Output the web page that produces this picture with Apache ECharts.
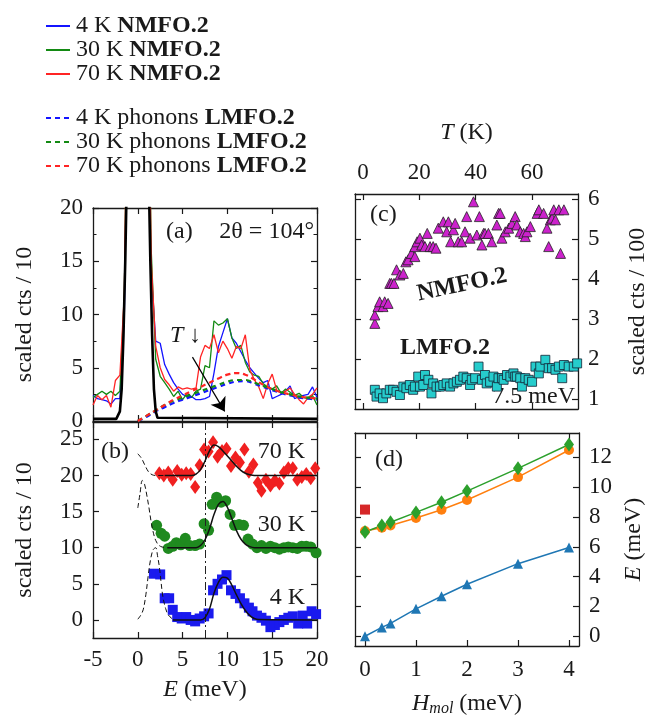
<!DOCTYPE html>
<html>
<head>
<meta charset="utf-8">
<script src="https://cdn.jsdelivr.net/npm/echarts@6/dist/echarts.min.js"></script>
<style>
  html, body { margin: 0; padding: 0; background: #fff; }
  #chart { width: 653px; height: 718px; }
</style>
</head>
<body>
<div id="chart"></div>
<script>
// ---------- panel (a): raw spectra at 2θ = 104° ----------
const aE = [-5,-4.5,-4,-3.5,-3,-2.5,-2,-1.5,-1,-0.5,0,0.5,1,1.5,2,2.5,3,3.5,4,4.5,5,5.5,6,6.5,7,7.5,8,8.5,9,9.5,10,10.5,11,11.5,12,12.5,13,13.5,14,14.5,15,15.5,16,16.5,17,17.5,18,18.5,19,19.5,20];
const a4K  = [2.4,2.1,2.0,1.9,1.6,2.1,2.1,10,40,80,90,80,40,14,7.5,7.3,5.3,4.4,3.6,3.0,2.5,2.3,2.3,2.0,2.0,2.1,2.3,4.5,7.0,8.3,9.6,7.8,7.3,6.5,5.7,5.0,4.5,4.0,3.6,3.8,2.1,2.3,2.5,2.8,3.3,2.1,2.3,2.4,2.5,3.2,2.2];
const a30K = [2.2,2.5,2.8,2.5,2.8,2.4,2.8,12,45,80,90,80,45,16,5.8,4.2,3.6,3.0,2.3,2.8,2.0,2.6,2.2,2.8,3.0,5.2,5.0,9.4,9.0,9.2,9.6,7.8,6.8,7.1,5.5,4.6,4.3,4.2,3.5,3.2,3.0,3.3,2.6,3.0,2.7,2.4,2.6,2.2,2.1,2.4,1.5];
const a70K = [1.5,2.4,2.0,2.4,1.3,3.8,4.3,12,45,80,90,80,45,15,7.0,5.0,3.9,3.4,2.8,3.2,3.0,3.1,3.0,3.1,6.0,7.1,6.8,8.1,6.4,7.5,6.8,5.9,7.0,6.8,8.1,4.8,3.9,3.2,2.1,3.5,4.4,2.9,2.6,2.8,3.1,2.5,2.0,1.6,2.2,2.5,3.1];
// phonon background measured on LMFO.2
const pE = [0,1,2,3,4,5,6,7,8,9,10,11,12,13,14,15,16,17,18,19,20];
const p4K  = [0,0.4,0.9,1.3,1.7,2.0,2.3,2.6,2.9,3.2,3.5,3.7,3.75,3.5,3.2,2.9,2.6,2.4,2.2,2.1,2.0];
const p30K = [0,0.5,1.0,1.5,1.9,2.2,2.5,2.8,3.1,3.4,3.7,3.85,3.85,3.6,3.3,3.0,2.7,2.5,2.3,2.2,2.1];
const p70K = [0,0.5,1.0,1.5,2.0,2.4,2.8,3.2,3.6,4.0,4.35,4.5,4.35,3.9,3.4,3.0,2.7,2.5,2.3,2.2,2.1];
// elastic line
const elE = [-5,-2.4,-2.2,-2.0,-1.8,-1.6,-1.4,-1.2,0,1.2,1.4,1.6,1.8,2.0,2.2,2.4,20];
const elV = [0.2,0.2,0.3,0.9,3,8,15,24,100,24,15,8,3,0.9,0.3,0.2,0.2];

// ---------- panel (b): magnetic signal (offset by 10 per temperature) ----------
const b4K = [[1.8,6.4],[2.5,6.3],[3.0,3.0],[3.5,3.0],[3.9,1.4],[4.4,0.4],[4.9,0.2],[5.4,0.4],[5.9,0.0],[6.4,-0.2],[6.9,0.2],[7.4,0.5],[7.9,0.9],[8.4,4.1],[8.9,5.0],[9.4,5.6],[9.9,6.2],[10.4,4.1],[10.9,3.6],[11.4,3.0],[11.9,2.3],[12.4,1.7],[12.8,1.2],[13.3,0.6],[13.8,0.3],[14.3,-0.1],[14.8,-1.0],[15.3,-0.7],[15.8,-0.3],[16.3,0.0],[16.8,0.3],[17.3,0.5],[17.9,-0.5],[18.4,0.6],[18.9,-0.5],[19.4,1.2],[19.9,0.8]];
const b30K = [[2.1,13.1],[2.6,12.0],[3.0,11.6],[3.4,9.9],[3.9,10.2],[4.3,10.7],[4.8,10.4],[5.3,11.3],[5.8,10.3],[6.4,10.3],[6.9,10.5],[7.4,13.3],[7.9,12.4],[8.3,16.0],[8.8,17.0],[9.3,16.3],[9.8,16.5],[10.3,14.6],[10.8,13.1],[11.3,13.2],[11.8,13.1],[12.3,11.2],[12.8,10.5],[13.3,10.0],[13.8,10.3],[14.3,9.9],[14.8,10.2],[15.3,10.0],[15.8,9.8],[16.3,10.0],[16.8,10.1],[17.3,10.0],[17.8,9.9],[18.3,10.2],[18.8,10.2],[19.3,10.1],[19.9,9.3]];
const b70K = [[2.4,20.3],[2.9,20.0],[3.4,20.4],[3.9,19.4],[4.4,20.6],[4.9,20.1],[5.4,20.3],[5.9,20.2],[6.4,18.4],[6.9,21.4],[7.4,23.6],[7.9,23.3],[8.4,24.6],[8.9,22.6],[9.4,23.4],[9.9,23.7],[10.4,21.3],[10.9,22.5],[11.4,21.8],[11.9,23.6],[12.4,20.5],[12.9,21.5],[13.4,19.0],[13.8,17.9],[14.3,19.4],[14.8,18.6],[15.3,19.3],[15.8,18.9],[16.3,20.4],[16.8,21.0],[17.3,21.0],[17.8,19.4],[18.3,19.8],[18.8,20.2],[19.3,19.6],[19.8,21.0]];
const fit4K  = [[3.9,0],[7.0,0],[7.5,0.3],[8.0,1.5],[8.5,3.7],[9.0,5.2],[9.5,5.9],[10.0,5.8],[10.5,4.8],[11.0,3.5],[11.5,2.3],[12.0,1.3],[12.5,0.6],[13.0,0.2],[13.5,0.05],[20,0]];
const fit30K = [[3.3,10],[6.5,10],[7.0,10.3],[7.5,11.1],[8.0,12.6],[8.5,14.6],[9.0,16.0],[9.5,16.4],[10.0,15.6],[10.5,14.0],[11.0,12.4],[11.5,11.2],[12.0,10.5],[12.5,10.15],[13.0,10.0],[20,10]];
const fit70K = [[3.0,20],[6.0,20],[6.5,20.2],[7.0,20.8],[7.5,22.0],[8.0,23.4],[8.5,24.2],[9.0,24.0],[9.5,23.4],[10.0,22.7],[10.5,22.0],[11.0,21.3],[11.5,20.7],[12.0,20.3],[12.5,20.1],[13.0,20.0],[20,20]];
const res4K  = [[0,0.1],[0.3,0.6],[0.6,1.4],[0.9,3.5],[1.15,6.0],[1.4,8.2],[1.7,9.7],[2.0,10.0],[2.2,8.9],[2.4,7.4],[2.6,5.2],[2.8,3.2],[3.1,1.6],[3.4,0.7],[3.9,0.1]];
const res30K = [[0,15.5],[0.25,17.5],[0.5,19.3],[0.75,18.8],[1.0,17.3],[1.25,15.5],[1.5,13.5],[1.75,12.0],[2.0,11.0],[2.3,10.4],[2.7,10.1],[3.3,10.0]];
const res70K = [[0,23.0],[0.4,22.4],[0.8,21.4],[1.2,20.5],[1.6,20.1],[2.0,20.0],[3.0,20.0]];
const cutE = 7.5;

// ---------- panel (c): intensity at 7.5 meV vs temperature ----------
const cNMFO = [[4.2,2.89],[4.2,3.10],[5.3,3.31],[5.9,3.43],[7.1,3.31],[7.7,3.43],[8.9,3.39],[9.5,3.89],[10.1,3.89],[11.0,3.89],[11.9,4.23],[13.1,4.10],[14.3,4.14],[15.2,4.43],[16.0,4.48],[17.2,4.64],[18.4,4.56],[18.4,4.81],[19.2,4.93],[20.2,5.02],[20.8,4.85],[22.0,4.81],[22.8,5.14],[23.8,4.81],[24.9,4.81],[25.9,4.77],[26.7,5.27],[28.5,5.43],[29.7,5.18],[30.3,5.43],[31.1,4.93],[32.1,5.23],[32.7,5.39],[33.8,4.93],[35.0,4.93],[36.2,5.18],[36.8,5.56],[38.0,5.02],[39.2,5.93],[40.4,5.10],[41.3,5.56],[42.2,4.85],[42.8,5.14],[43.3,5.14],[44.5,5.14],[45.7,4.93],[47.5,5.35],[48.1,5.64],[48.7,5.64],[49.3,5.02],[50.5,5.18],[51.7,5.27],[52.9,5.39],[54.0,5.56],[54.6,5.35],[55.8,5.18],[57.0,5.14],[57.6,5.06],[58.2,5.18],[59.4,5.31],[61.8,5.64],[62.4,5.73],[64.1,5.64],[65.3,5.27],[65.9,4.81],[66.5,5.48],[67.1,5.52],[67.7,5.73],[68.3,5.48],[69.5,5.73],[70.1,4.64],[71.3,5.73]];
const cLMFO = [[4.2,1.23],[4.8,1.06],[5.9,1.14],[7.1,1.02],[8.3,1.14],[9.5,1.23],[10.7,1.23],[11.9,1.18],[13.1,1.10],[14.3,1.31],[15.4,1.27],[16.6,1.35],[17.8,1.23],[18.4,1.31],[19.6,1.56],[20.2,1.31],[21.4,1.35],[22.0,1.60],[23.2,1.48],[24.3,1.14],[24.9,1.39],[26.1,1.31],[27.3,1.31],[28.5,1.35],[29.7,1.39],[30.9,1.31],[32.1,1.39],[33.3,1.43],[34.4,1.48],[35.6,1.56],[36.8,1.52],[38.0,1.35],[38.6,1.48],[39.8,1.52],[41.0,1.81],[42.2,1.48],[43.3,1.60],[43.9,1.39],[45.1,1.43],[46.3,1.56],[47.5,1.31],[48.1,1.52],[49.3,1.52],[49.9,1.48],[51.1,1.60],[52.3,1.56],[53.4,1.64],[54.0,1.56],[54.6,1.56],[55.8,1.52],[56.4,1.31],[57.6,1.52],[58.8,1.48],[60.0,1.43],[61.2,1.81],[62.4,1.64],[62.9,1.81],[64.7,1.98],[65.9,1.77],[67.1,1.77],[68.3,1.73],[69.5,1.81],[70.7,1.52],[71.3,1.85],[73.0,1.81],[74.8,1.81],[76.0,1.89]];

// ---------- panel (d): level energies vs molecular field ----------
const dH = [0,0.33,0.5,1,1.5,2,3,4];
const dUpper = [7.0,7.43,7.65,8.31,8.99,9.74,11.27,12.87];
const dMiddle = [7.06,7.28,7.43,7.94,8.49,9.14,10.68,12.5];
const dLower = [0,0.59,0.86,1.84,2.68,3.49,4.87,5.96];
const dObserved = [[0,8.5]];

// ---------- tick values ----------
const ticksE = [-5,0,5,10,15,20];
const ticksA = [0,5,10,15,20];
const ticksB = [0,5,10,15,20,25];
const ticksT = [0,20,40,60];
const ticksC = [1,2,3,4,5,6];
const ticksH = [0,1,2,3,4];
const ticksD = [0,2,4,6,8,10,12];

const FONT = '"Liberation Serif", "DejaVu Serif", serif';
const INK = '#1a1a1a';
const pairs = (xs, ys) => xs.map((x, i) => [x, ys[i]]);

const RICH = {
  i: { fontFamily: FONT, fontSize: 24, fontStyle: 'italic', color: INK },
  s: { fontFamily: FONT, fontSize: 16, fontStyle: 'italic', color: INK, verticalAlign: 'bottom', padding: [10, 0, 0, 0] }
};

function mkAxis(o) {
  const ax = {
    type: 'value', gridIndex: o.grid, position: o.pos, min: o.min, max: o.max,
    axisLine: { show: true, onZero: false, lineStyle: { color: INK, width: 1.3 } },
    axisTick: { show: true, inside: true, length: 6, lineStyle: { color: INK, width: 1.2 }, customValues: o.ticks },
    axisLabel: { show: !!o.labels, fontFamily: FONT, fontSize: 23, color: INK, margin: o.margin || 10, customValues: o.ticks },
    splitLine: { show: false }
  };
  if (o.minor) ax.minorTick = { show: true, splitNumber: 2, length: 3.5, lineStyle: { color: INK, width: 1 } };
  if (o.name) {
    ax.name = o.name;
    ax.nameLocation = 'middle';
    ax.nameGap = o.gap;
    if (o.rot) ax.nameRotate = o.rot;
    ax.nameTextStyle = { fontFamily: FONT, fontSize: 24, color: INK, rich: RICH };
  }
  return ax;
}

const xAxes = [
  mkAxis({ grid: 0, pos: 'bottom', min: -5, max: 20, ticks: ticksE }),
  mkAxis({ grid: 0, pos: 'top', min: -5, max: 20, ticks: ticksE }),
  mkAxis({ grid: 1, pos: 'bottom', min: -5, max: 20, ticks: ticksE, labels: true, name: '{i|E} (meV)', gap: 40 }),
  mkAxis({ grid: 1, pos: 'top', min: -5, max: 20, ticks: ticksE }),
  mkAxis({ grid: 2, pos: 'top', min: -2.84, max: 76.3, ticks: ticksT, labels: true, name: '{i|T} (K)', gap: 49 }),
  mkAxis({ grid: 2, pos: 'bottom', min: -2.84, max: 76.3, ticks: ticksT }),
  mkAxis({ grid: 3, pos: 'bottom', min: -0.196, max: 4.196, ticks: ticksH, labels: true, margin: 12, name: '{i|H}{s|mol} (meV)', gap: 45 }),
  mkAxis({ grid: 3, pos: 'top', min: -0.196, max: 4.196, ticks: ticksH })
];
const yAxes = [
  mkAxis({ grid: 0, pos: 'left', min: 0, max: 20, ticks: ticksA, labels: true, minor: true, name: 'scaled cts / 10', gap: 56, rot: 90 }),
  mkAxis({ grid: 0, pos: 'right', min: 0, max: 20, ticks: ticksA, minor: true }),
  mkAxis({ grid: 1, pos: 'left', min: -2.5, max: 27.4, ticks: ticksB, labels: true, name: 'scaled cts / 10', gap: 56, rot: 90 }),
  mkAxis({ grid: 1, pos: 'right', min: -2.5, max: 27.4, ticks: ticksB }),
  mkAxis({ grid: 2, pos: 'right', min: 0.75, max: 6.125, ticks: ticksC, labels: true, name: 'scaled cts / 100', gap: 48, rot: 90 }),
  mkAxis({ grid: 2, pos: 'left', min: 0.75, max: 6.125, ticks: ticksC }),
  mkAxis({ grid: 3, pos: 'right', min: -0.656, max: 13.64, ticks: ticksD, labels: true, name: '{i|E} (meV)', gap: 43, rot: 90 }),
  mkAxis({ grid: 3, pos: 'left', min: -0.656, max: 13.64, ticks: ticksD })
];

const BLUE = '#1414ff', GREEN = '#138a13', RED = '#ff2424';

function rawLine(name, data, color) {
  return { name, type: 'line', xAxisIndex: 0, yAxisIndex: 0, data, symbol: 'none',
    lineStyle: { color, width: 1.3 }, itemStyle: { color }, z: 3 };
}
function phononLine(name, data, color) {
  return { name, type: 'line', xAxisIndex: 0, yAxisIndex: 0, data, symbol: 'none', smooth: 0.4,
    lineStyle: { color, width: 2.2, type: [5, 4] }, itemStyle: { color }, z: 4 };
}
function bLine(data, dashed) {
  return { type: 'line', xAxisIndex: 2, yAxisIndex: 2, data, symbol: 'none', smooth: 0.35, silent: true,
    lineStyle: { color: '#111', width: dashed ? 1 : 1.5, type: dashed ? [5, 3] : 'solid' }, z: 5 };
}
function dLine(data, color, symbol, size) {
  return { type: 'line', xAxisIndex: 6, yAxisIndex: 6, data, symbol, symbolSize: size,
    lineStyle: { color, width: 1.5 }, itemStyle: { color, opacity: 1 }, z: 3 };
}

const legendFmt = function (name) {
  const k = name.lastIndexOf(' ');
  return '{n|' + name.slice(0, k + 1) + '}{b|' + name.slice(k + 1) + '}';
};
const legendRich = {
  n: { fontFamily: FONT, fontSize: 24, color: INK, lineHeight: 28, padding: [0, 0, 0, 1] },
  b: { fontFamily: FONT, fontSize: 24, fontWeight: 'bold', color: INK, lineHeight: 28 }
};
// legend keys show the line only
const legendKey = { color: 'transparent', borderWidth: 0, opacity: 0 };

function txt(x, y, text, style, rotation) {
  return { type: 'text', x, y, rotation: rotation || 0, silent: true,
    style: Object.assign({ text, fill: INK, fontFamily: FONT, fontSize: 24, textAlign: 'left', verticalAlign: 'middle', textVerticalAlign: 'middle' }, style || {}) };
}

const option = {
  animation: false,
  backgroundColor: '#ffffff',
  grid: [
    { left: 93, top: 208, width: 224, height: 213 },
    { left: 93, top: 422, width: 224, height: 216 },
    { left: 355, top: 194, width: 223, height: 215 },
    { left: 355, top: 433, width: 224, height: 218 }
  ],
  xAxis: xAxes,
  yAxis: yAxes,
  legend: [
    { orient: 'vertical', left: 40, top: 9, itemWidth: 24, itemHeight: 14, itemGap: 0, selectedMode: false,
      itemStyle: legendKey,
      data: ['4 K NMFO.2', '30 K NMFO.2', '70 K NMFO.2'],
      formatter: legendFmt, textStyle: { rich: legendRich } },
    { orient: 'vertical', left: 40, top: 101, itemWidth: 24, itemHeight: 14, itemGap: 0, selectedMode: false,
      itemStyle: legendKey,
      data: ['4 K phonons LMFO.2', '30 K phonons LMFO.2', '70 K phonons LMFO.2'],
      formatter: legendFmt, textStyle: { rich: legendRich } }
  ],
  graphic: [
    txt(166, 232, '(a)'),
    txt(314, 232, '2θ = 104°', { textAlign: 'right' }),
    txt(170, 336, '{i|T} ↓', { rich: { i: { fontFamily: FONT, fontSize: 24, fontStyle: 'italic', fill: INK } } }),
    txt(101, 452, '(b)'),
    txt(305, 452, '70 K', { textAlign: 'right' }),
    txt(305, 525, '30 K', { textAlign: 'right' }),
    txt(305, 598, '4 K', { textAlign: 'right' }),
    txt(370, 215, '(c)'),
    txt(462, 285, 'NMFO.2', { textAlign: 'center', fontWeight: 'bold' }, 0.21),
    txt(445, 348, 'LMFO.2', { textAlign: 'center', fontWeight: 'bold' }),
    txt(575, 397, '7.5 meV', { textAlign: 'right' }),
    txt(375, 460, '(d)')
  ],
  series: [
    // (a) raw spectra and phonon estimates
    rawLine('4 K NMFO.2', pairs(aE, a4K), BLUE),
    rawLine('30 K NMFO.2', pairs(aE, a30K), GREEN),
    rawLine('70 K NMFO.2', pairs(aE, a70K), RED),
    phononLine('4 K phonons LMFO.2', pairs(pE, p4K), BLUE),
    phononLine('30 K phonons LMFO.2', pairs(pE, p30K), GREEN),
    phononLine('70 K phonons LMFO.2', pairs(pE, p70K), RED),
    {
      type: 'line', xAxisIndex: 0, yAxisIndex: 0, data: pairs(elE, elV), symbol: 'none', silent: true,
      lineStyle: { color: '#000', width: 2.6 }, z: 6,
      markLine: {
        silent: true, symbol: ['none', 'arrow'], symbolSize: 13,
        lineStyle: { color: '#000', width: 1.2, type: 'solid' }, label: { show: false },
        data: [[{ coord: [6.1, 6.0] }, { coord: [9.7, 0.9] }]]
      }
    },
    // (b) subtracted data, fits and resolution lines
    { type: 'scatter', xAxisIndex: 2, yAxisIndex: 2, data: b4K, symbol: 'rect', symbolSize: 10, itemStyle: { color: '#1a1aee', opacity: 1 }, z: 4 },
    { type: 'scatter', xAxisIndex: 2, yAxisIndex: 2, data: b30K, symbol: 'circle', symbolSize: 11, itemStyle: { color: '#1f8a1f', opacity: 1 }, z: 4 },
    { type: 'scatter', xAxisIndex: 2, yAxisIndex: 2, data: b70K, symbol: 'diamond', symbolSize: [10, 14], itemStyle: { color: '#f02020', opacity: 1 }, z: 4 },
    Object.assign(bLine(fit4K, false), {
      markLine: { silent: true, symbol: 'none', label: { show: false },
        lineStyle: { color: '#222', width: 1, type: [8, 3, 2, 3] }, data: [{ xAxis: cutE }] }
    }),
    bLine(fit30K, false),
    bLine(fit70K, false),
    bLine(res4K, true),
    bLine(res30K, true),
    bLine(res70K, true),
    // (c) temperature dependence
    { type: 'scatter', xAxisIndex: 4, yAxisIndex: 4, data: cNMFO, symbol: 'triangle', symbolSize: 10,
      itemStyle: { color: '#cc22cc', borderColor: '#222', borderWidth: 0.8, opacity: 1 } },
    { type: 'scatter', xAxisIndex: 4, yAxisIndex: 4, data: cLMFO, symbol: 'rect', symbolSize: 9,
      itemStyle: { color: '#26cccc', borderColor: '#123', borderWidth: 0.8, opacity: 1 } },
    // (d) field dependence of the levels
    dLine(pairs(dH, dLower), '#1f77b4', 'triangle', 10),
    dLine(pairs(dH, dMiddle), '#ff7f0e', 'circle', 10),
    dLine(pairs(dH, dUpper), '#2ca02c', 'diamond', [10, 14]),
    { type: 'scatter', xAxisIndex: 6, yAxisIndex: 6, data: dObserved, symbol: 'rect', symbolSize: 10, itemStyle: { color: '#d62728', opacity: 1 } }
  ]
};

const chart = echarts.init(document.getElementById('chart'));
chart.setOption(option);
</script>
</body>
</html>
